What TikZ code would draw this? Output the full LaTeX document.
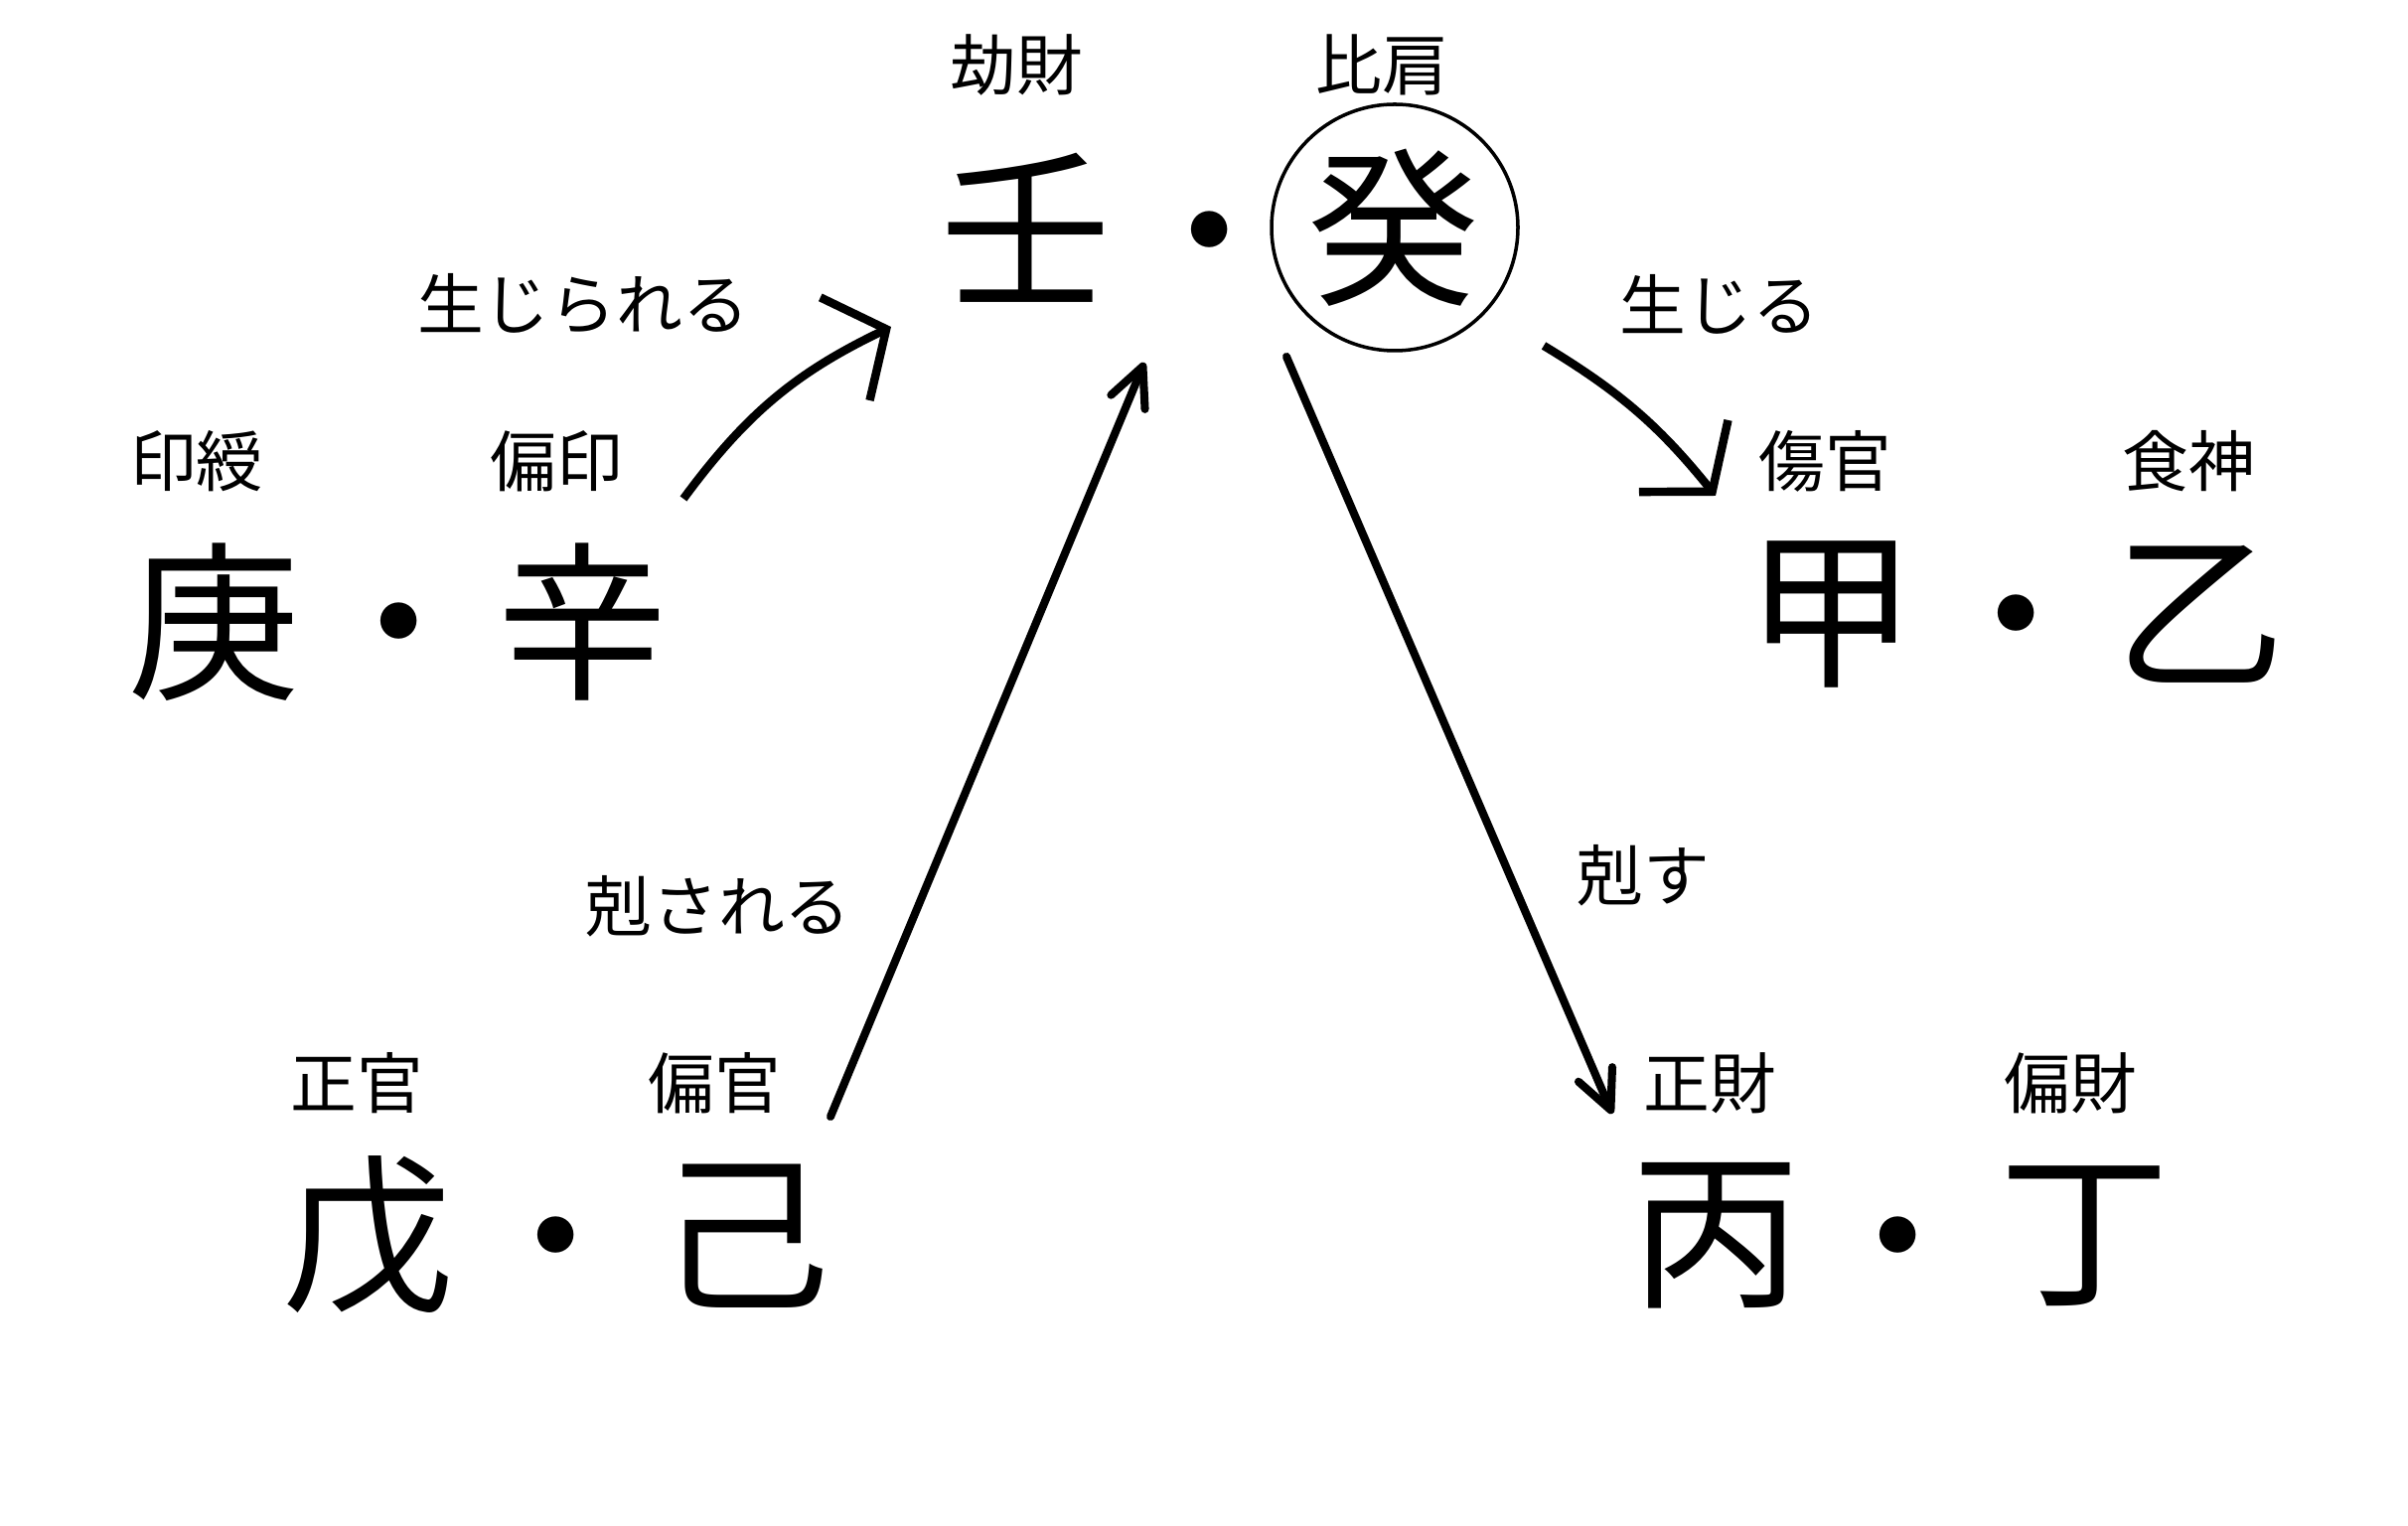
\documentclass[tikz,border=0pt]{standalone}
\usepackage{fontspec}
\newfontfamily\jpfont{Noto Sans CJK JP}
\usetikzlibrary{arrows.meta}

\begin{document}
\begin{tikzpicture}[
    kan/.style={font=\jpfont\fontsize{49}{49}\selectfont, inner sep=0pt},
    tsu/.style={font=\jpfont\fontsize{19}{19}\selectfont, inner sep=0pt},
    sei/.style={line width=2.4pt, line join=miter, -{Straight Barb[length=4.6mm, width=11.5mm]}},
    koku/.style={line width=2.3pt, line cap=round, -{Straight Barb[length=3.9mm, width=3.7mm, round]}}]
    \useasboundingbox (0,0) rectangle (24.24,15.35);

    % 水（中央）
    \node[kan] (mizuE) at (10.33,13.06) {壬};
    \node[kan] (mizuD) at (12.18,12.80) {・};
    \node[kan] (mizuT) at (14.04,13.06) {癸};
    \draw[line width=1pt] (mizuT) circle (1.24);
    \node[tsu] (gouzai) at (10.23,14.70) {劫財};
    \node[tsu] (hiken) at (13.91,14.70) {比肩};

    % 金（左上）
    \node[kan] (kaneE) at (2.16,9.09) {庚};
    \node[kan] (kaneD) at (4.02,8.86) {・};
    \node[kan] (kaneT) at (5.87,9.09) {辛};
    \node[tsu] (injuu) at (1.98,10.71) {印綬};
    \node[tsu] (henin) at (5.60,10.71) {偏印};

    % 木（右上）
    \node[kan] (kiE) at (18.44,9.17) {甲};
    \node[kan] (kiD) at (20.30,8.94) {・};
    \node[kan] (kiT) at (22.15,9.17) {乙};
    \node[tsu] (shoukan) at (18.37,10.71) {傷官};
    \node[tsu] (shokujin) at (22.03,10.71) {食神};

    % 土（左下）
    \node[kan] (tsuchiE) at (3.71,2.91) {戊};
    \node[kan] (tsuchiD) at (5.60,2.68) {・};
    \node[kan] (tsuchiT) at (7.50,2.91) {己};
    \node[tsu] (seikan) at (3.59,4.45) {正官};
    \node[tsu] (henkan) at (7.19,4.45) {偏官};

    % 火（右下）
    \node[kan] (hiE) at (17.28,2.91) {丙};
    \node[kan] (hiD) at (19.11,2.68) {・};
    \node[kan] (hiT) at (20.99,2.91) {丁};
    \node[tsu] (seizai) at (17.21,4.45) {正財};
    \node[tsu] (henzai) at (20.84,4.45) {偏財};

    % 関係のことば
    \node[tsu] (shoujirareru) at (5.87,12.29) {生じられる};
    \node[tsu] (shoujiru) at (17.31,12.29) {生じる};
    \node[tsu] (kokusareru) at (7.23,6.23) {剋される};
    \node[tsu] (kokusu) at (16.54,6.54) {剋す};

    % 矢印の端
    \coordinate (kaneOut) at (6.88,10.33);
    \coordinate (mizuInA) at (8.97,12.06);
    \coordinate (tsuchiOut) at (8.36,4.11);
    \coordinate (mizuInB) at (11.52,11.70);
    \coordinate (mizuOutA) at (15.54,11.87);
    \coordinate (kiIn) at (17.27,10.36);
    \coordinate (mizuOutB) at (12.95,11.76);
    \coordinate (hiIn) at (16.23,4.14);

    % 生じる／剋す
    \draw[sei] (kaneOut) to[bend left=14] (mizuInA);
    \draw[sei] (mizuOutA) to[bend left=10] (kiIn);
    \draw[koku] (tsuchiOut) -- (mizuInB);
    \draw[koku] (mizuOutB) -- (hiIn);
\end{tikzpicture}
\end{document}
